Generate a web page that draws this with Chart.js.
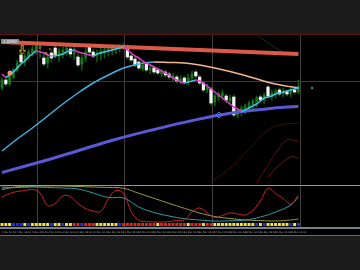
<!DOCTYPE html>
<html>
<head>
<meta charset="utf-8">
<script src="https://cdn.jsdelivr.net/npm/chart.js@4.4.1/dist/chart.umd.min.js"></script>
<style>
    html, body { margin: 0; padding: 0; background: #1b1b1b; }
    #wrap { position: relative; width: 360px; height: 270px; }
</style>
</head>
<body>
<div id="wrap"><canvas id="priceChart" width="360" height="270"></canvas></div>
<script>
// ---------- data ----------
const opens = [
    1.0946,1.0954,1.0950,1.0957,1.0964,1.0979,1.0972,1.0977,1.0981,1.0984,
    1.0986,1.0976,1.0971,1.0981,1.0986,1.0978,1.0982,1.0983,1.0985,1.0980,
    1.0977,1.0970,1.0976,1.0988,1.0982,1.0978,1.0980,1.0982,1.0983,1.0984,
    1.0985,1.0986,1.0987,1.0988,1.0978,1.0975,1.0972,1.0965,1.0970,1.0964,
    1.0966,1.0964,1.0960,1.0962,1.0960,1.0956,1.0957,1.0952,1.0956,1.0952,
    1.0956,1.0962,1.0957,1.0951,1.0944,1.0945,1.0932,1.0937,1.0938,1.0938,
    1.0933,1.0937,1.0919,1.0922,1.0924,1.0927,1.0929,1.0932,1.0937,1.0934,
    1.0947,1.0938,1.0940,1.0944,1.0940,1.0942,1.0940,1.0944,1.0942
];
const closes = [
    1.0954,1.0950,1.0958,1.0964,1.0971,1.0972,1.0978,1.0982,1.0985,1.0988,
    1.0988,1.0970,1.0977,1.0976,1.0979,1.0983,1.0984,1.0986,1.0980,1.0984,
    1.0969,1.0976,1.0982,1.0982,1.0978,1.0981,1.0983,1.0984,1.0985,1.0986,
    1.0987,1.0988,1.0989,1.0977,1.0974,1.0969,1.0966,1.0969,1.0964,1.0966,
    1.0962,1.0961,1.0963,1.0959,1.0957,1.0958,1.0953,1.0955,1.0952,1.0956,
    1.0960,1.0958,1.0951,1.0944,1.0948,1.0931,1.0938,1.0940,1.0941,1.0934,
    1.0936,1.0919,1.0924,1.0926,1.0928,1.0931,1.0933,1.0936,1.0934,1.0939,
    1.0938,1.0941,1.0943,1.0940,1.0943,1.0940,1.0944,1.0942,1.0948
];
const highs = [
    1.0956,1.0957,1.0961,1.0966,1.0974,1.0984,1.0980,1.0985,1.0988,1.0990,
    1.0990,1.0982,1.0981,1.0984,1.0988,1.0986,1.0987,1.0989,1.0988,1.0987,
    1.0980,1.0979,1.0986,1.0990,1.0985,1.0984,1.0986,1.0987,1.0988,1.0989,
    1.0989,1.0990,1.0991,1.0989,1.0980,1.0977,1.0974,1.0972,1.0972,1.0968,
    1.0968,1.0966,1.0965,1.0964,1.0962,1.0961,1.0959,1.0958,1.0958,1.0960,
    1.0963,1.0964,1.0959,1.0953,1.0950,1.0947,1.0940,1.0942,1.0944,1.0940,
    1.0939,1.0939,1.0926,1.0928,1.0930,1.0933,1.0935,1.0938,1.0939,1.0941,
    1.0949,1.0944,1.0945,1.0946,1.0946,1.0944,1.0947,1.0946,1.0954
];
const lows = [
    1.0944,1.0948,1.0948,1.0955,1.0962,1.0970,1.0968,1.0974,1.0978,1.0980,
    1.0976,1.0968,1.0966,1.0972,1.0976,1.0972,1.0976,1.0979,1.0977,1.0974,
    1.0967,1.0964,1.0972,1.0980,1.0976,1.0972,1.0974,1.0976,1.0978,1.0979,
    1.0980,1.0982,1.0984,1.0975,1.0972,1.0967,1.0964,1.0963,1.0962,1.0960,
    1.0960,1.0959,1.0957,1.0957,1.0955,1.0953,1.0951,1.0950,1.0950,1.0949,
    1.0954,1.0956,1.0949,1.0942,1.0941,1.0929,1.0928,1.0933,1.0934,1.0931,
    1.0930,1.0917,1.0916,1.0918,1.0920,1.0922,1.0924,1.0927,1.0932,1.0930,
    1.0936,1.0934,1.0936,1.0938,1.0937,1.0938,1.0937,1.0940,1.0940
];

// fast moving average, one value per candle
const fastMa = [
    1.0960,1.0957,1.0959,1.0962,1.0966,1.0970,1.0973,1.0977,1.0980,1.0983,
    1.0982,1.0981,1.0979,1.0978,1.0978,1.0979,1.0980,1.0982,1.0983,1.0984,
    1.0982,1.0981,1.0980,1.0979,1.0978,1.0980,1.0981,1.0982,1.0983,1.0984,
    1.0985,1.0986,1.0987,1.0984,1.0981,1.0978,1.0976,1.0973,1.0971,1.0969,
    1.0967,1.0965,1.0963,1.0961,1.0959,1.0956,1.0954,1.0952,1.0951,1.0952,
    1.0953,1.0954,1.0953,1.0951,1.0948,1.0945,1.0942,1.0939,1.0936,1.0933,
    1.0930,1.0927,1.0925,1.0923,1.0924,1.0926,1.0928,1.0930,1.0933,1.0936,
    1.0937,1.0938,1.0940,1.0941,1.0942,1.0943,1.0944,1.0945,1.0946
];

// slow moving average (cyan rising / peach falling)
const slowMaIdx = [0,4,8,12,16,20,24,28,32,36,40,44,48,52,56,60,64,68,72,76,78];
const slowMa = [1.0883,1.0895,1.0906,1.0918,1.0930,1.0941,1.0951,1.0959,1.0966,1.0970,
                1.0972,1.09715,1.0971,1.0969,1.0966,1.09625,1.09585,1.0954,1.0950,1.09472,1.0946];

// long moving average (purple)
const longMaIdx = [0,10,20,30,40,50,60,70,78];
const longMa = [1.08615,1.0872,1.08833,1.08947,1.09045,1.09134,1.09208,1.09252,1.09278];

// thick red line at the top
const trendIdx = [0,39,78];
const trendLine = [1.09919,1.0986,1.09801];

// faint envelope curves lower right / upper right
const envAIdx = [55,61,66,70,73,78];
const envA = [1.0852,1.0869,1.0889,1.0904,1.0909,1.0911];
const envBIdx = [67,70,73,75,78];
const envB = [1.0851,1.0869,1.0886,1.0894,1.0893];
const envCIdx = [70,73,76,78];
const envC = [1.0857,1.0869,1.0877,1.0876];
const envGIdx = [65,69,73,77,78];
const envG = [1.1004,1.0994,1.0984,1.0979,1.0981];

// oscillator window (0..100)
const oscRedIdx = [0,2,4,6,8,10,12,14,16,18,20,22,24,26,28,30,32,34,36,38,
                   40,42,44,46,48,50,52,54,56,58,60,62,64,66,68,70,72,74,76,78];
const oscRed = [71.4,81.4,87.1,89.7,93.1,82.9,47.1,52.9,74.3,72.9,52.9,38.6,31.4,30,67.1,90,81.4,30,4.9,1.4,
                0,0,1.4,4.3,5.7,28.6,40,25.7,12.9,18.6,25.7,22.9,20,32.9,60,95.7,81.4,67.1,51.4,77.1];
const oscSlowIdx = [0,4,8,12,16,20,24,28,32,36,40,44,48,52,56,60,64,68,72,76,78];
const oscOlive = [92.9,100.6,102,102.9,102.9,101.4,100,98.6,96.3,82,67.7,53.1,39.1,25.7,15.7,10,5.7,4,2.9,5.7,8.6];
const oscTeal = [97.1,98.6,100,98.6,97.1,94.3,82.9,70,68.6,42.9,27.1,17.1,9.4,5.7,2.9,3.4,5.7,14.3,28.6,48.6,71.4];

// signal squares under the oscillator
const signalBars = [
    'Y','Y','Y','B','B','B','Y','B','Y','Y',
    'Y','Y','Y','B','Y','Y','B','Y','Y','R',
    'R','B','R','R','R','Y','Y','Y','Y','Y',
    'Y','B','R','R','R','R','R','R','R','R',
    'R','Y','R','R','R','R','R','R','R','Y',
    'R','R','R','Y','R','R','Y','Y','Y','Y',
    'Y','Y','Y','Y','Y','Y','Y','B','Y','B',
    'Y','Y','Y','Y','Y','Y','B','Y','B'
];

// markers
const arrowMarks = [{ x: 5.3, y: 1.0984 }];
const dotMarks = [{ x: 2.1, y: 1.0961 }];
const crossMarks = [{ x: 10, y: 1.0986 }, { x: 11.6, y: 1.0981 }, { x: 12.6, y: 1.0985 }, { x: 13.7, y: 1.0980 }];
const diamondMarks = [{ x: 57.1, y: 1.0919 }];
const aheadMarks = [{ x: 81.6, y: 1.0946 }];

// time axis
const timeIdx = [0,4,8,12,16,20,24,28,32,36,40,44,48,52,56,60,64,68,72,76];
const timeLabels = [
    "4 Mar 00:00","4 Mar 16:00","5 Mar 08:00","6 Mar 00:00","6 Mar 16:00",
    "9 Mar 08:00","10 Mar 00:00","10 Mar 16:00","11 Mar 08:00","12 Mar 00:00",
    "12 Mar 16:00","13 Mar 08:00","16 Mar 00:00","16 Mar 16:00","17 Mar 08:00",
    "18 Mar 00:00","18 Mar 16:00","19 Mar 08:00","20 Mar 00:00","20 Mar 16:00"
];
const gridIdx = [9.2, 32.1, 55.3, 78.4];
const gridPrice = 1.0953;

// ---------- helpers ----------
const AREA_TOP = 34, AREA_BOTTOM = 236;

// value vA sits at pixel yA, vB at yB -> min/max over the whole plot area
function fitRange(vA, yA, vB, yB) {
    const k = (vA - vB) / (yB - yA);
    return { max: vA + (yA - AREA_TOP) * k, min: vB - (AREA_BOTTOM - yB) * k };
}

function pts(xs, ys) {
    return xs.map((x, i) => ({ x: x, y: ys[i] }));
}

function makeArrow() {
    const c = document.createElement("canvas");
    c.width = 7; c.height = 10;
    const g = c.getContext("2d");
    g.strokeStyle = "#d9a521";
    g.lineWidth = 1;
    g.beginPath();
    g.moveTo(2.5, 0.5); g.lineTo(4.5, 0.5); g.lineTo(4.5, 5.5); g.lineTo(6.5, 5.5);
    g.lineTo(3.5, 9.5); g.lineTo(0.5, 5.5); g.lineTo(2.5, 5.5); g.closePath();
    g.stroke();
    return c;
}

const idx = opens.map((_, i) => i);
const wicks = idx.map(i => ({ x: i, y: [lows[i], highs[i]] }));
const bullBodies = idx.filter(i => closes[i] >= opens[i]).map(i => ({ x: i, y: [opens[i], closes[i]] }));
const bearBodies = idx.filter(i => closes[i] < opens[i]).map(i => ({ x: i, y: [closes[i], opens[i]] }));
const signalColors = { Y: "#f2e23a", B: "#2430e8", R: "#e0261e" };

const slopeColor = (up, down) => ctx => ctx.p1.parsed.y < ctx.p0.parsed.y ? down : up;

const oscRange = fitRange(100, 187, 0, 222);
const sigRange = fitRange(1, 34, 0, 224.5);

// ---------- frame plugin: background, grid, separators, time labels ----------
const terminalFrame = {
    id: "terminalFrame",
    beforeDatasetsDraw(chart) {
        const { ctx, chartArea: a, scales } = chart;
        ctx.save();
        ctx.fillStyle = "#000000";
        ctx.fillRect(a.left, a.top, a.right - a.left, a.bottom - a.top);

        ctx.lineWidth = 1;
        ctx.strokeStyle = "#404040";
        gridIdx.forEach(v => {
            const x = Math.round(scales.x.getPixelForValue(v)) + 0.5;
            ctx.beginPath(); ctx.moveTo(x, a.top); ctx.lineTo(x, 227); ctx.stroke();
        });
        const gy = Math.round(scales.yP.getPixelForValue(gridPrice)) + 0.5;
        ctx.strokeStyle = "#3a3a3a";
        ctx.beginPath(); ctx.moveTo(a.left, gy); ctx.lineTo(a.right, gy); ctx.stroke();

        // top border
        ctx.strokeStyle = "#5c1212";
        ctx.beginPath(); ctx.moveTo(a.left, a.top + 0.5); ctx.lineTo(a.right, a.top + 0.5); ctx.stroke();
        ctx.restore();
    },
    afterDatasetsDraw(chart) {
        const { ctx, chartArea: a, scales } = chart;
        ctx.save();
        // window separators
        ctx.fillStyle = "#000000";
        ctx.fillRect(a.left, 184, a.right - a.left, 2);
        ctx.fillStyle = "#9a9a9a";
        ctx.fillRect(a.left, 185, a.right - a.left, 1);
        ctx.fillStyle = "#7c808c";
        ctx.fillRect(a.left, 227, a.right - a.left, 2);
        ctx.fillStyle = "#6a6a6a";
        ctx.fillRect(a.left, 235, a.right - a.left, 1);

        // time labels
        ctx.fillStyle = "#a4a4a4";
        ctx.font = "2.4px 'DejaVu Sans'";
        ctx.textAlign = "left";
        ctx.textBaseline = "middle";
        timeIdx.forEach((v, i) => {
            ctx.fillText(timeLabels[i], scales.x.getPixelForValue(v) - 0.5, 232.3);
        });

        // price tag on the left
        ctx.fillStyle = "#8a8a8a";
        ctx.fillRect(1, 39, 18, 5);
        ctx.fillStyle = "#f0f0f0";
        ctx.font = "4px 'DejaVu Sans'";
        ctx.fillText("1.0992", 3, 41.6);

        // indicator caption
        ctx.fillStyle = "#8a8a8a";
        ctx.font = "3px 'DejaVu Sans'";
        ctx.fillText("Stoch(14,3,3) 77.1", 1, 187.5);
        ctx.restore();
    }
};

const lineBase = { type: "line", yAxisID: "yP", pointRadius: 0, fill: false };

new Chart(document.getElementById("priceChart"), {
    type: "bar",
    data: {
        datasets: [
            { ...lineBase, data: pts(envAIdx, envA), borderColor: "#3a0e0e", borderWidth: 1, tension: 0.4, order: 30 },
            { ...lineBase, data: pts(envBIdx, envB), borderColor: "#561414", borderWidth: 1, tension: 0.4, order: 30 },
            { ...lineBase, data: pts(envCIdx, envC), borderColor: "#6e1818", borderWidth: 1, tension: 0.4, order: 30 },
            { ...lineBase, data: pts(envGIdx, envG), borderColor: "#0f3812", borderWidth: 1, tension: 0.4, order: 30 },
            {
                type: "bar", yAxisID: "yP", data: wicks, backgroundColor: "#0d5a12",
                barThickness: 1, grouped: false, borderWidth: 0, order: 20
            },
            {
                type: "bar", yAxisID: "yP", data: bullBodies, backgroundColor: "#16781c",
                barThickness: 2, grouped: false, borderWidth: 0, minBarLength: 1, order: 19
            },
            {
                type: "bar", yAxisID: "yP", data: bearBodies, backgroundColor: "#f4f4f4",
                barThickness: 2.6, grouped: false, borderWidth: 0, minBarLength: 1, order: 18
            },
            { ...lineBase, data: pts(longMaIdx, longMa), borderColor: "#5b58d6", borderWidth: 3, tension: 0.4, order: 10 },
            {
                ...lineBase, data: pts(slowMaIdx, slowMa), borderWidth: 1.5, cubicInterpolationMode: "monotone",
                segment: { borderColor: slopeColor("#3fb3dd", "#f2b88e") }, borderColor: "#3fb3dd", order: 9
            },
            { ...lineBase, data: pts(trendIdx, trendLine), borderColor: "#db584a", borderWidth: 4, order: 8 },
            {
                ...lineBase, data: fastMa.map((v, i) => ({ x: i, y: v })), borderWidth: 1.5,
                cubicInterpolationMode: "monotone",
                segment: { borderColor: slopeColor("#3ec6e6", "#e03cc8") }, borderColor: "#3ec6e6", order: 7
            },
            {
                type: "scatter", yAxisID: "yP", data: arrowMarks, pointStyle: makeArrow(), order: 2
            },
            {
                type: "scatter", yAxisID: "yP", data: dotMarks, pointRadius: 2.5,
                backgroundColor: "#f28a8a", borderWidth: 0, order: 2
            },
            {
                type: "scatter", yAxisID: "yP", data: crossMarks, pointRadius: 0.9,
                backgroundColor: ["#e03a20", "#e08a20", "#e03a20", "#e08a20"], borderWidth: 0, order: 2
            },
            {
                type: "scatter", yAxisID: "yP", data: diamondMarks, pointStyle: "rectRot", pointRadius: 3,
                backgroundColor: "rgba(0,0,0,0)", borderColor: "#3f7cf0", borderWidth: 1, order: 2
            },
            {
                type: "scatter", yAxisID: "yP", data: aheadMarks, pointRadius: 1.3,
                backgroundColor: "#1fa060", borderWidth: 0, order: 2
            },
            // oscillator window
            { type: "line", yAxisID: "yO", data: pts(oscSlowIdx, oscOlive), borderColor: "#9c9a3e", borderWidth: 1, pointRadius: 0, tension: 0.4, order: 6 },
            { type: "line", yAxisID: "yO", data: pts(oscSlowIdx, oscTeal), borderColor: "#2c9ea6", borderWidth: 1, pointRadius: 0, tension: 0.4, order: 5 },
            { type: "line", yAxisID: "yO", data: pts(oscRedIdx, oscRed), borderColor: "#c8242a", borderWidth: 1, pointRadius: 0, tension: 0.4, order: 4 },
            // signal squares
            {
                type: "scatter", yAxisID: "yS", data: idx.map(i => ({ x: i, y: 0 })),
                pointStyle: "rect", pointRadius: 2.1,
                backgroundColor: signalBars.map(c => signalColors[c]), borderWidth: 0, order: 3
            }
        ]
    },
    options: {
        responsive: false,
        animation: false,
        events: [],
        layout: { autoPadding: false, padding: { top: AREA_TOP, bottom: 270 - AREA_BOTTOM, left: 0, right: 0 } },
        plugins: { legend: { display: false }, tooltip: { enabled: false } },
        scales: {
            x: { type: "linear", display: false, offset: false, min: -0.526, max: 94.21 },
            yP: { type: "linear", display: false, min: 1.0798, max: 1.1000 },
            yO: { type: "linear", display: false, min: oscRange.min, max: oscRange.max },
            yS: { type: "linear", display: false, min: sigRange.min, max: sigRange.max }
        }
    },
    plugins: [terminalFrame]
});
</script>
</body>
</html>
